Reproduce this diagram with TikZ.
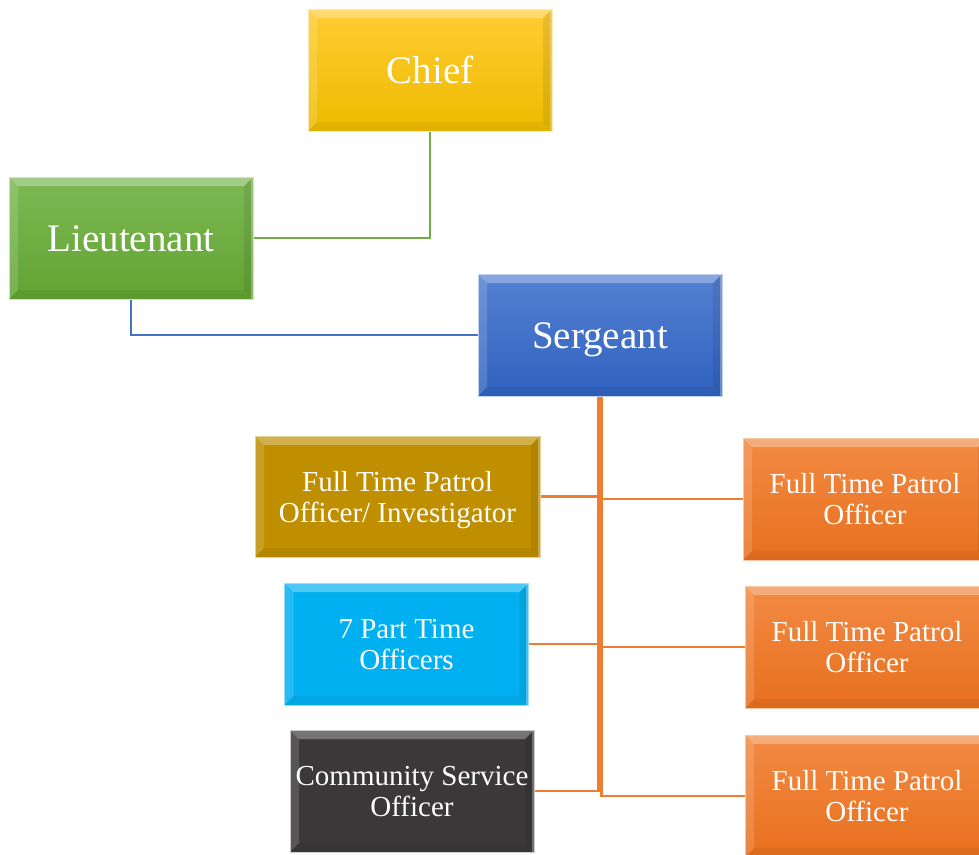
\documentclass[tikz,border=0pt]{standalone}
\usepackage{fontspec}
\setmainfont{Liberation Serif}
\usetikzlibrary{calc}
\definecolor{chiefT}{HTML}{FFCC33}\definecolor{chiefB}{HTML}{EEBB00}
\definecolor{ltT}{HTML}{7DB954}\definecolor{ltB}{HTML}{62A332}
\definecolor{sgT}{HTML}{5580D2}\definecolor{sgB}{HTML}{2F62BF}
\definecolor{invC}{HTML}{BF8F00}
\definecolor{ptC}{HTML}{00B0F0}
\definecolor{csoC}{HTML}{3A3838}
\definecolor{orT}{HTML}{F28A43}\definecolor{orB}{HTML}{E8701F}
\definecolor{lnG}{HTML}{70AD47}\definecolor{lnB}{HTML}{4472C4}\definecolor{lnO}{HTML}{ED7D31}
\newcommand{\twolines}[2]{\raisebox{5.5pt}[0pt][0pt]{\begin{tabular}[t]{@{}c@{}}#1\\#2\end{tabular}}}
\tikzset{
 bev/.style={path picture={
   \coordinate (pnw) at (path picture bounding box.north west);
   \coordinate (pne) at (path picture bounding box.north east);
   \coordinate (psw) at (path picture bounding box.south west);
   \coordinate (pse) at (path picture bounding box.south east);
   \fill[white,opacity=0.3] (pnw) -- (pne) -- ([shift={(-9pt,-9pt)}]pne) -- ([shift={(9pt,-9pt)}]pnw) -- cycle;
   \fill[white,opacity=0.15] (pnw) -- (psw) -- ([shift={(9pt,9pt)}]psw) -- ([shift={(9pt,-9pt)}]pnw) -- cycle;
   \fill[black,opacity=0.08] (pne) -- (pse) -- ([shift={(-9pt,9pt)}]pse) -- ([shift={(-9pt,-9pt)}]pne) -- cycle;
   \fill[white,opacity=0.3] ([xshift=-2.5pt]pne) rectangle (pse);
   \fill[black,opacity=0.05] (psw) -- (pse) -- ([shift={(-9pt,9pt)}]pse) -- ([shift={(9pt,9pt)}]psw) -- cycle;
 }},
 boxbig/.style={bev, minimum width=244pt, minimum height=122pt, inner sep=0pt, text=white,
   text height=26pt, text depth=0pt,
   font=\fontsize{39}{41}\selectfont, draw=white!70!#1, line width=1pt},
 boxsmall/.style={bev, minimum width=244pt, minimum height=122pt, inner sep=0pt, text=white,
   text height=0pt, text depth=0pt,
   font=\fontsize{29}{31}\selectfont, draw=white!60!#1, line width=1pt},
 conn/.style={line width=2.4pt, #1},
}
\begin{document}
\begin{tikzpicture}[x=1pt,y=-1pt]
\useasboundingbox (0,0) rectangle (979,854);
\node[boxbig=chiefB, top color=chiefT, bottom color=chiefB] (chief) at (430,70) {Chief};
\node[boxbig=ltB, top color=ltT, bottom color=ltB] (lt) at (131,238) {Lieutenant};
\node[boxbig=sgB, top color=sgT, bottom color=sgB] (sgt) at (600,335) {Sergeant};
\node[boxsmall=invC, fill=invC, minimum width=285pt, minimum height=121pt] (inv) at (397.5,496.5) {\twolines{Full Time Patrol}{Officer/ Investigator}};
\node[boxsmall=ptC, fill=ptC] (pt) at (406.5,644) {\twolines{7 Part Time}{Officers}};
\node[boxsmall=gray, fill=csoC] (cso) at (412,791) {\twolines{Community Service}{Officer}};
\node[boxsmall=orB, top color=orT, bottom color=orB] (r1) at (865,499) {\twolines{Full Time Patrol}{Officer}};
\node[boxsmall=orB, top color=orT, bottom color=orB] (r2) at (867,647) {\twolines{Full Time Patrol}{Officer}};
\node[boxsmall=orB, top color=orT, bottom color=orB] (r3) at (867,796) {\twolines{Full Time Patrol}{Officer}};
\draw[conn=lnG] (chief.south) |- (lt.east);
\draw[conn=lnB] (lt.south) |- (sgt.west);
\draw[conn=lnO] ([xshift=-1.5pt]sgt.south) |- (inv.east);
\draw[conn=lnO] ([xshift=-1.5pt]sgt.south) |- (pt.east);
\draw[conn=lnO] ([xshift=-1.5pt]sgt.south) |- (cso.east);
\draw[conn=lnO] ([xshift=1.5pt]sgt.south) |- (r1.west);
\draw[conn=lnO] ([xshift=1.5pt]sgt.south) |- (r2.west);
\draw[conn=lnO] ([xshift=1.5pt]sgt.south) |- (r3.west);
\end{tikzpicture}
\end{document}
